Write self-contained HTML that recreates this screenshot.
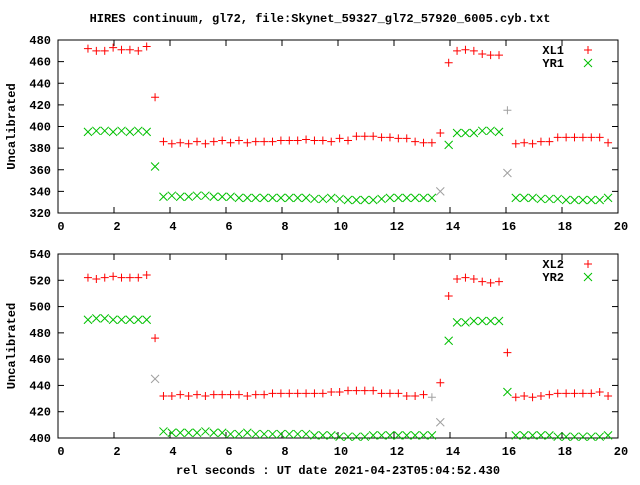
<!DOCTYPE html>
<html><head><meta charset="utf-8"><style>
html,body{margin:0;padding:0;background:#fff}
svg text{font-family:"Liberation Mono","DejaVu Sans Mono",monospace;font-weight:bold;font-size:12px;fill:#000}
</style></head><body>
<svg id="chart" width="640" height="480" viewBox="0 0 640 480" xmlns="http://www.w3.org/2000/svg">
<text x="320" y="22" text-anchor="middle" font-size="11">HIRES continuum, gl72, file:Skynet_59327_gl72_57920_6005.cyb.txt</text>
<text x="338" y="474" text-anchor="middle">rel seconds : UT date 2021-04-23T05:04:52.430</text>
<g id="p1"></g>
<g id="p2"></g>
</svg>
<script>
const xTicks=[0,2,4,6,8,10,12,14,16,18,20];
const topYTicks=[320,340,360,380,400,420,440,460,480];
const botYTicks=[400,420,440,460,480,500,520,540];
const xl1=[472,470,470,473,471,471,470,474,427,386,384,385,384,386,384,386,387,385,387,385,386,386,386,387,387,387,388,387,387,386,389,387,391,391,391,390,390,389,389,386,385,387,385,394,459,470,471,470,467,466,466,415,384,385,384,386,386,390,390,390,390,390,390,385];
const yr1=[395,396,396,395,396,395,396,395,363,335,336,335,335,336,336,335,335,335,334,334,334,334,334,334,334,334,334,333,333,334,333,332,332,332,332,333,334,334,334,334,334,334,340,383,394,394,394,396,396,395,357,334,334,334,333,333,333,332,332,332,332,332,334];
const xl2=[522,521,522,523,522,522,522,524,476,432,432,433,432,433,432,433,433,433,433,432,433,433,434,434,434,434,434,434,434,435,435,436,436,436,436,434,434,434,432,432,433,431,442,508,521,522,521,519,518,519,465,431,432,431,432,433,434,434,434,434,434,435,432];
const yr2=[490,491,491,490,490,490,490,490,445,405,404,404,404,404,405,404,404,403,403,404,403,403,403,403,403,403,403,402,402,402,401,401,401,401,402,402,402,402,402,402,402,402,412,474,488,488,489,489,489,489,435,402,402,402,402,402,401,401,401,401,401,401,402];
const xl1Grey=[50];const yr1Grey=[42,50];const xl2Grey=[41];const yr2Grey=[8,42];
const t0=1.07,dt=0.2996;
// xl1 has one extra leading-run value; trim to match others
if(xl1.length>63)xl1.splice(41,1);
const NS="http://www.w3.org/2000/svg";
function mk(tag,attrs,parent){const e=document.createElementNS(NS,tag);for(const k in attrs)e.setAttribute(k,attrs[k]);parent.appendChild(e);return e;}
function panel(g,top,bottom,ymin,ymax,yTicks,series,legend){
 const L=58,R=618;
 const sx=v=>L+(v-0)/(20-0)*(R-L);
 const sy=v=>bottom-(v-ymin)/(ymax-ymin)*(bottom-top);
 const fr=mk('rect',{x:L,y:top,width:R-L,height:bottom-top,fill:'none',stroke:'#000','stroke-width':1},g);
 
 xTicks.forEach(v=>{const x=sx(v);
  mk('line',{x1:x,y1:bottom,x2:x,y2:bottom-6,stroke:'#000'},g);
  mk('line',{x1:x,y1:top,x2:x,y2:top+6,stroke:'#000'},g);
  const t=mk('text',{x:x+3,y:bottom+17,'text-anchor':'middle'},g);t.textContent=v;
  });
 yTicks.forEach(v=>{const y=sy(v);
  mk('line',{x1:L,y1:y,x2:L+6,y2:y,stroke:'#000'},g);
  mk('line',{x1:R,y1:y,x2:R-6,y2:y,stroke:'#000'},g);
  const t=mk('text',{x:51,y:y+4,'text-anchor':'end'},g);t.textContent=v;
  });
 const yl=mk('text',{x:15,y:(top+bottom)/2,'text-anchor':'middle',transform:`rotate(-90 15 ${(top+bottom)/2})`},g);yl.textContent='Uncalibrated';
 
 series.forEach((s,si)=>{
  s.vals.forEach((v,i)=>{const x=sx(t0+dt*i),y=sy(v);
   const c=s.grey.includes(i)?'#a0a0a0':s.color;
   const m=mk('path',{d:s.shape==='plus'?`M${x-4},${y}H${x+4}M${x},${y-4}V${y+4}`:`M${x-4},${y-4}L${x+4},${y+4}M${x-4},${y+4}L${x+4},${y-4}`,stroke:c,'stroke-width':1,fill:'none'},g);
   });
  const ly=top+10+si*13;
  const lt=mk('text',{x:564,y:ly+4,'text-anchor':'end'},g);lt.textContent=s.name.toUpperCase();
  
  const x=588,y=ly;
  const lm=mk('path',{d:s.shape==='plus'?`M${x-4},${y}H${x+4}M${x},${y-4}V${y+4}`:`M${x-4},${y-4}L${x+4},${y+4}M${x-4},${y+4}L${x+4},${y-4}`,stroke:s.color,fill:'none'},g);
  
 });
}
panel(document.getElementById('p1'),40,213,320,480,topYTicks,[
 {name:'xl1',vals:xl1,color:'#ff0000',shape:'plus',grey:xl1Grey},
 {name:'yr1',vals:yr1,color:'#00c000',shape:'x',grey:yr1Grey}]);
panel(document.getElementById('p2'),254,438,400,540,botYTicks,[
 {name:'xl2',vals:xl2,color:'#ff0000',shape:'plus',grey:xl2Grey},
 {name:'yr2',vals:yr2,color:'#00c000',shape:'x',grey:yr2Grey}]);
</script>
</body></html>
